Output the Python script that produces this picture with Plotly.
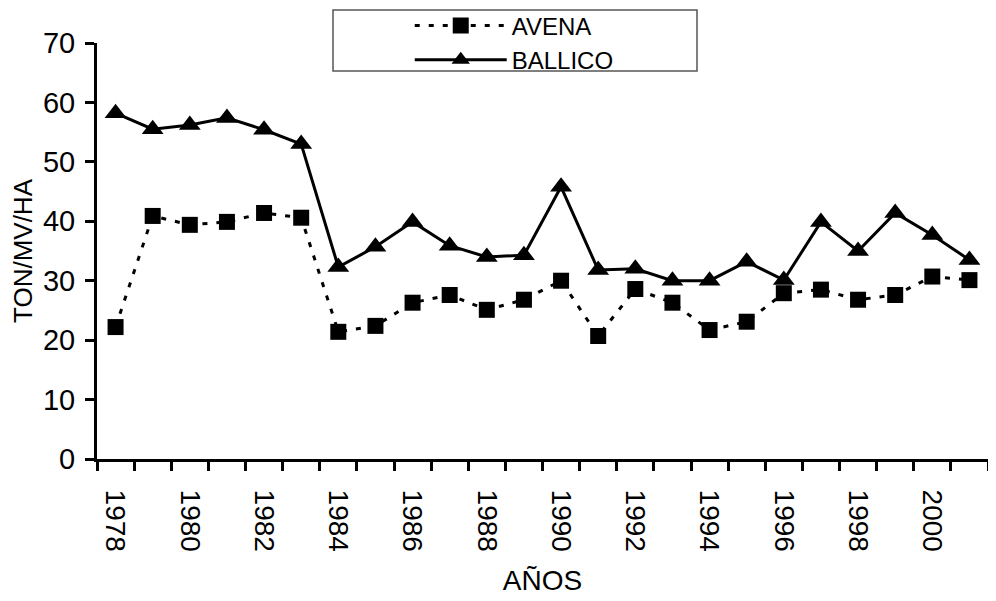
import plotly.graph_objects as go

years = list(range(1978, 2002))
avena = [22.2, 40.9, 39.4, 39.9, 41.4, 40.6, 21.4, 22.4, 26.3, 27.6, 25.1, 26.8,
         30.0, 20.7, 28.6, 26.3, 21.7, 23.1, 27.9, 28.5, 26.8, 27.6, 30.7, 30.1]
ballico = [58.2, 55.5, 56.2, 57.4, 55.4, 53.0, 32.3, 35.7, 39.9, 35.9, 34.0, 34.3,
           45.8, 31.8, 32.0, 30.0, 30.0, 33.2, 30.1, 39.9, 35.0, 41.4, 37.7, 33.5]
label_years = list(range(1978, 2001, 2))
boundaries = [y - 0.5 for y in range(1978, 2003)]

FONT = "Liberation Sans, Arial, sans-serif"

fig = go.Figure()
fig.add_trace(go.Scatter(
    x=years, y=avena, name="AVENA", mode="lines+markers",
    line=dict(color="black", width=3, dash="5px,9px"),
    marker=dict(symbol="square", size=16, color="black"),
))
fig.add_trace(go.Scatter(
    x=years, y=ballico, name="BALLICO", mode="lines+markers",
    line=dict(color="black", width=3),
    marker=dict(symbol="triangle-up", size=19, color="black"),
))

fig.update_layout(
    width=996, height=601,
    margin=dict(l=89, r=16, t=35, b=150, autoexpand=False),
    paper_bgcolor="white", plot_bgcolor="white",
    font=dict(family=FONT, color="black", size=28),
    showlegend=True,
    legend=dict(
        x=0.351, y=1.095, xanchor="left", yanchor="top",
        bgcolor="rgba(0,0,0,0)", borderwidth=0,
        itemwidth=92, tracegroupgap=0,
        font=dict(size=24, family=FONT),
    ),
    xaxis=dict(
        range=[1977.5, 2001.5],
        tickmode="array", tickvals=label_years,
        ticktext=[str(y) for y in label_years],
        ticks="", tickangle=90, ticklabelstandoff=22,
        tickfont=dict(size=28),
        showline=True, linecolor="black", linewidth=3,
        showgrid=False, zeroline=False, automargin=False,
        minor=dict(tickmode="array", tickvals=boundaries, ticks="outside",
                   ticklen=9, tickwidth=3, tickcolor="black", showgrid=False),
        title=dict(text="AÑOS", font=dict(size=28), standoff=20),
    ),
    yaxis=dict(
        range=[0, 70], tickmode="array", tickvals=list(range(0, 71, 10)),
        ticks="outside", ticklen=9, tickwidth=3, tickcolor="black",
        tickfont=dict(size=29), ticklabelstandoff=4,
        showline=True, linecolor="black", linewidth=3,
        showgrid=False, zeroline=False, automargin=False,
        title=dict(text="TON/MV/HA", font=dict(size=26), standoff=6),
    ),
    shapes=[dict(type="rect", xref="paper", yref="paper",
                 x0=(333 - 97) / 891, x1=(697 - 97) / 891,
                 y0=(459 - 71) / 416, y1=(459 - 10) / 416,
                 line=dict(color="#555", width=1.5), fillcolor="rgba(0,0,0,0)")],
)

fig.write_html("out.html")
